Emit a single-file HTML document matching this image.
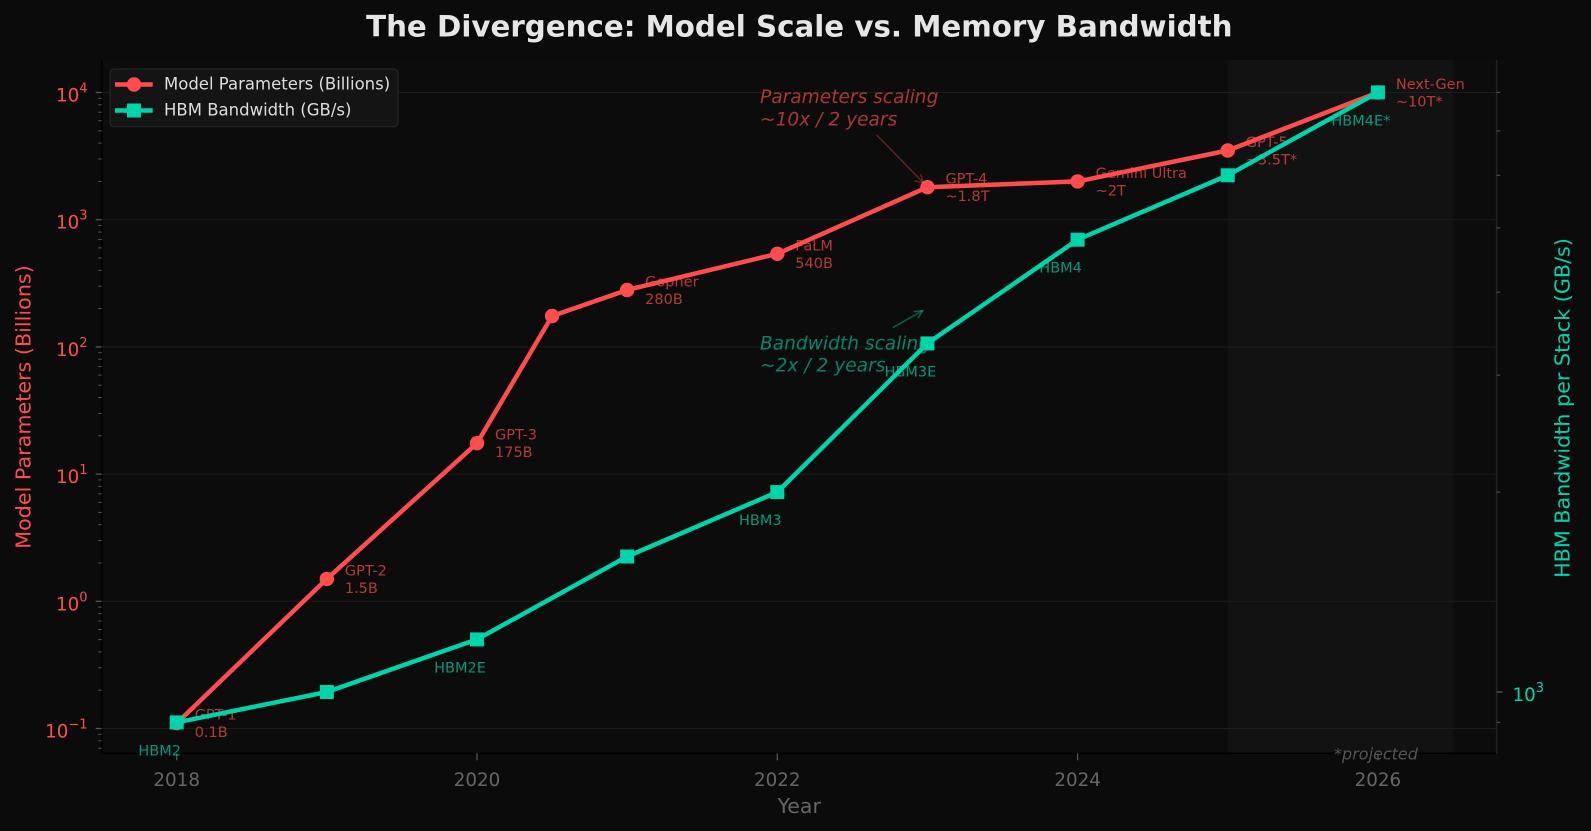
<!DOCTYPE html>
<html><head><meta charset="utf-8"><style>html,body{margin:0;padding:0;background:#0b0b0b}svg{display:block}</style></head>
<body>
<svg width="1591" height="831" viewBox="0 0 1591 831" xmlns="http://www.w3.org/2000/svg" font-family="'DejaVu Sans','Liberation Sans',sans-serif">
<rect x="0" y="0" width="1591" height="831" fill="#0b0b0b"/>
<!-- axes bg -->
<rect x="101.7" y="60" width="1395" height="693.3" fill="#0c0c0c"/>
<!-- projected shading -->
<rect x="1227.75" y="60" width="225.15" height="693.3" fill="#121212"/>
<!-- grid -->
<g stroke="#1d1d1d" stroke-width="1">
<line x1="101.7" x2="1496.7" y1="728.5" y2="728.5"/>
<line x1="101.7" x2="1496.7" y1="601.3" y2="601.3"/>
<line x1="101.7" x2="1496.7" y1="474.1" y2="474.1"/>
<line x1="101.7" x2="1496.7" y1="346.9" y2="346.9"/>
<line x1="101.7" x2="1496.7" y1="219.7" y2="219.7"/>
<line x1="101.7" x2="1496.7" y1="92.5" y2="92.5"/>
</g>
<!-- spines -->
<line x1="101.7" y1="60" x2="101.7" y2="754" stroke="#000" stroke-width="1.6"/>
<line x1="101" y1="753.3" x2="1497.5" y2="753.3" stroke="#000" stroke-width="1.6"/>
<line x1="1496.7" y1="60" x2="1496.7" y2="754" stroke="#222" stroke-width="1.6"/>
<!-- left ticks -->
<g stroke="#555" stroke-width="1.3">
<line x1="95.7" x2="101.7" y1="728.5" y2="728.5"/>
<line x1="95.7" x2="101.7" y1="601.3" y2="601.3"/>
<line x1="95.7" x2="101.7" y1="474.1" y2="474.1"/>
<line x1="95.7" x2="101.7" y1="346.9" y2="346.9"/>
<line x1="95.7" x2="101.7" y1="219.7" y2="219.7"/>
<line x1="95.7" x2="101.7" y1="92.5" y2="92.5"/>
</g>
<g stroke="#555" stroke-width="1">
<line x1="98.2" x2="101.7" y1="734.3" y2="734.3"/><line x1="98.2" x2="101.7" y1="740.8" y2="740.8"/><line x1="98.2" x2="101.7" y1="748.2" y2="748.2"/>
<line x1="98.2" x2="101.7" y1="690.2" y2="690.2"/><line x1="98.2" x2="101.7" y1="667.8" y2="667.8"/><line x1="98.2" x2="101.7" y1="651.9" y2="651.9"/><line x1="98.2" x2="101.7" y1="639.6" y2="639.6"/><line x1="98.2" x2="101.7" y1="629.5" y2="629.5"/><line x1="98.2" x2="101.7" y1="621.0" y2="621.0"/><line x1="98.2" x2="101.7" y1="613.6" y2="613.6"/><line x1="98.2" x2="101.7" y1="607.1" y2="607.1"/>
<line x1="98.2" x2="101.7" y1="563.0" y2="563.0"/><line x1="98.2" x2="101.7" y1="540.6" y2="540.6"/><line x1="98.2" x2="101.7" y1="524.7" y2="524.7"/><line x1="98.2" x2="101.7" y1="512.4" y2="512.4"/><line x1="98.2" x2="101.7" y1="502.3" y2="502.3"/><line x1="98.2" x2="101.7" y1="493.8" y2="493.8"/><line x1="98.2" x2="101.7" y1="486.4" y2="486.4"/><line x1="98.2" x2="101.7" y1="479.9" y2="479.9"/>
<line x1="98.2" x2="101.7" y1="435.8" y2="435.8"/><line x1="98.2" x2="101.7" y1="413.4" y2="413.4"/><line x1="98.2" x2="101.7" y1="397.5" y2="397.5"/><line x1="98.2" x2="101.7" y1="385.2" y2="385.2"/><line x1="98.2" x2="101.7" y1="375.1" y2="375.1"/><line x1="98.2" x2="101.7" y1="366.6" y2="366.6"/><line x1="98.2" x2="101.7" y1="359.2" y2="359.2"/><line x1="98.2" x2="101.7" y1="352.7" y2="352.7"/>
<line x1="98.2" x2="101.7" y1="308.6" y2="308.6"/><line x1="98.2" x2="101.7" y1="286.2" y2="286.2"/><line x1="98.2" x2="101.7" y1="270.3" y2="270.3"/><line x1="98.2" x2="101.7" y1="258.0" y2="258.0"/><line x1="98.2" x2="101.7" y1="247.9" y2="247.9"/><line x1="98.2" x2="101.7" y1="239.4" y2="239.4"/><line x1="98.2" x2="101.7" y1="232.0" y2="232.0"/><line x1="98.2" x2="101.7" y1="225.5" y2="225.5"/>
<line x1="98.2" x2="101.7" y1="181.4" y2="181.4"/><line x1="98.2" x2="101.7" y1="159.0" y2="159.0"/><line x1="98.2" x2="101.7" y1="143.1" y2="143.1"/><line x1="98.2" x2="101.7" y1="130.8" y2="130.8"/><line x1="98.2" x2="101.7" y1="120.7" y2="120.7"/><line x1="98.2" x2="101.7" y1="112.2" y2="112.2"/><line x1="98.2" x2="101.7" y1="104.8" y2="104.8"/><line x1="98.2" x2="101.7" y1="98.3" y2="98.3"/>
</g>
<!-- right ticks -->
<line x1="1496.7" x2="1502.7" y1="692" y2="692" stroke="#555" stroke-width="1.3"/>
<g stroke="#555" stroke-width="1">
<line x1="1496.7" x2="1500.2" y1="722.4" y2="722.4"/><line x1="1496.7" x2="1500.2" y1="492.1" y2="492.1"/><line x1="1496.7" x2="1500.2" y1="375.2" y2="375.2"/><line x1="1496.7" x2="1500.2" y1="292.2" y2="292.2"/><line x1="1496.7" x2="1500.2" y1="227.9" y2="227.9"/><line x1="1496.7" x2="1500.2" y1="175.3" y2="175.3"/><line x1="1496.7" x2="1500.2" y1="130.9" y2="130.9"/><line x1="1496.7" x2="1500.2" y1="92.4" y2="92.4"/>
</g>
<!-- bottom ticks -->
<g stroke="#555" stroke-width="1.3">
<line x1="176.7" x2="176.7" y1="753.3" y2="760.3"/>
<line x1="477" x2="477" y1="753.3" y2="760.3"/>
<line x1="777.3" x2="777.3" y1="753.3" y2="760.3"/>
<line x1="1077.6" x2="1077.6" y1="753.3" y2="760.3"/>
<line x1="1377.9" x2="1377.9" y1="753.3" y2="760.3"/>
</g>
<!-- tick labels -->
<g font-size="18.3" fill="#666" text-anchor="middle">
<text x="176.7" y="786">2018</text>
<text x="477" y="786">2020</text>
<text x="777.3" y="786">2022</text>
<text x="1077.6" y="786">2024</text>
<text x="1377.9" y="786">2026</text>
</g>
<text x="799.2" y="813" font-size="20.5" fill="#666" text-anchor="middle">Year</text>
<g font-size="18.3" fill="#ff4d4d" text-anchor="end">
<text x="87.5" y="737.5">10<tspan dy="-9" font-size="13">−1</tspan></text>
<text x="87.5" y="610.3">10<tspan dy="-9" font-size="13">0</tspan></text>
<text x="87.5" y="483.1">10<tspan dy="-9" font-size="13">1</tspan></text>
<text x="87.5" y="355.9">10<tspan dy="-9" font-size="13">2</tspan></text>
<text x="87.5" y="228.7">10<tspan dy="-9" font-size="13">3</tspan></text>
<text x="87.5" y="101.5">10<tspan dy="-9" font-size="13">4</tspan></text>
</g>
<text x="1512.5" y="701" font-size="18.3" fill="#00d4aa">10<tspan dy="-9" font-size="13">3</tspan></text>
<!-- axis labels -->
<text transform="translate(30.3,407) rotate(-90)" text-anchor="middle" font-size="20.7" fill="#ff4d4d">Model Parameters (Billions)</text>
<text transform="translate(1569.6,408) rotate(-90)" text-anchor="middle" font-size="20.7" fill="#00d4aa">HBM Bandwidth per Stack (GB/s)</text>
<!-- title -->
<text x="799.3" y="36.5" text-anchor="middle" font-size="29.3" font-weight="bold" fill="#e6e6e6">The Divergence: Model Scale vs. Memory Bandwidth</text>
<!-- annotations -->
<text font-style="italic" font-size="18.6" fill="#ff4d4d" fill-opacity="0.65"><tspan x="760" y="103">Parameters scaling</tspan><tspan x="760" y="125.3">~10x / 2 years</tspan></text>
<g stroke="#ff4d4d" stroke-opacity="0.35" stroke-width="1.5" fill="none">
<line x1="876.7" y1="135" x2="923.3" y2="182.7"/>
<polyline points="914.3,180.8 923.3,182.7 920.6,174"/>
</g>
<text font-style="italic" font-size="18.6" fill="#00d4aa" fill-opacity="0.6"><tspan x="760" y="349.3">Bandwidth scaling</tspan><tspan x="760" y="371.6">~2x / 2 years</tspan></text>
<g stroke="#00d4aa" stroke-opacity="0.4" stroke-width="1.5" fill="none">
<line x1="892.7" y1="327.7" x2="922.7" y2="310.7"/>
<polyline points="913.5,311.6 922.7,310.7 918,318.2"/>
</g>
<text x="1376" y="759.5" text-anchor="middle" font-size="16" font-style="italic" fill="#555">*projected</text>
<!-- red labels -->
<g font-size="14.5" fill="#ff4d4d" fill-opacity="0.7">
<text><tspan x="194.7" y="719.7">GPT-1</tspan><tspan x="194.7" y="737.2">0.1B</tspan></text>
<text><tspan x="344.85" y="575.4">GPT-2</tspan><tspan x="344.85" y="592.9">1.5B</tspan></text>
<text><tspan x="495" y="439.7">GPT-3</tspan><tspan x="495" y="457.2">175B</tspan></text>
<text><tspan x="645.15" y="286.5">Gopher</tspan><tspan x="645.15" y="304">280B</tspan></text>
<text><tspan x="795.3" y="250.3">PaLM</tspan><tspan x="795.3" y="267.8">540B</tspan></text>
<text><tspan x="945.45" y="183.7">GPT-4</tspan><tspan x="945.45" y="201.2">~1.8T</tspan></text>
<text><tspan x="1095.6" y="177.9">Gemini Ultra</tspan><tspan x="1095.6" y="195.4">~2T</tspan></text>
<text><tspan x="1245.75" y="147">GPT-5</tspan><tspan x="1245.75" y="164.5">~3.5T*</tspan></text>
<text><tspan x="1395.9" y="89">Next-Gen</tspan><tspan x="1395.9" y="106.5">~10T*</tspan></text>
</g>
<!-- red series -->
<polyline fill="none" stroke="#ff4d4d" stroke-width="4.5" stroke-linejoin="round" points="176.7,723.2 326.85,578.9 477,443.2 552.1,316 627.15,290 777.3,253.8 927.45,187.2 1077.6,181.4 1227.75,150.5 1377.9,92.5"/>
<g fill="#ff4d4d">
<circle cx="176.7" cy="723.2" r="7.2"/><circle cx="326.85" cy="578.9" r="7.2"/><circle cx="477" cy="443.2" r="7.2"/><circle cx="552.1" cy="316" r="7.2"/><circle cx="627.15" cy="290" r="7.2"/><circle cx="777.3" cy="253.8" r="7.2"/><circle cx="927.45" cy="187.2" r="7.2"/><circle cx="1077.6" cy="181.4" r="7.2"/><circle cx="1227.75" cy="150.5" r="7.2"/><circle cx="1377.9" cy="92.5" r="7.2"/>
</g>
<!-- teal labels -->
<g font-size="14.5" fill="#00d4aa" fill-opacity="0.7" text-anchor="middle">
<text x="159.7" y="755.4">HBM2</text>
<text x="460" y="672.4">HBM2E</text>
<text x="760.3" y="525.1">HBM3</text>
<text x="910.45" y="376.4">HBM3E</text>
<text x="1060.6" y="272.7">HBM4</text>
<text x="1360.9" y="125.4">HBM4E*</text>
</g>
<!-- teal series -->
<polyline fill="none" stroke="#00d4aa" stroke-width="4.5" stroke-linejoin="round" points="176.7,722.4 326.85,692 477,639.4 627.15,556.5 777.3,492.1 927.45,343.4 1077.6,239.7 1227.75,175.3 1377.9,92.4"/>
<g fill="#00d4aa">
<rect x="169.7" y="715.4" width="14" height="14"/><rect x="319.85" y="685" width="14" height="14"/><rect x="470" y="632.4" width="14" height="14"/><rect x="620.15" y="549.5" width="14" height="14"/><rect x="770.3" y="485.1" width="14" height="14"/><rect x="920.45" y="336.4" width="14" height="14"/><rect x="1070.6" y="232.7" width="14" height="14"/><rect x="1220.75" y="168.3" width="14" height="14"/><rect x="1370.9" y="85.4" width="14" height="14"/>
</g>
<!-- legend -->
<rect x="110" y="69" width="288" height="57.7" rx="4" ry="4" fill="#141414" stroke="#2a2a2a" stroke-width="1"/>
<line x1="115" x2="152.7" y1="84.5" y2="84.5" stroke="#ff4d4d" stroke-width="4.5"/>
<circle cx="134" cy="84.5" r="7.2" fill="#ff4d4d"/>
<line x1="115" x2="152.7" y1="110.5" y2="110.5" stroke="#00d4aa" stroke-width="4.5"/>
<rect x="127" y="103.5" width="14" height="14" fill="#00d4aa"/>
<g font-size="16.5" fill="#dddddd">
<text x="164" y="89.5">Model Parameters (Billions)</text>
<text x="164" y="115.5">HBM Bandwidth (GB/s)</text>
</g>
</svg>
</body></html>
